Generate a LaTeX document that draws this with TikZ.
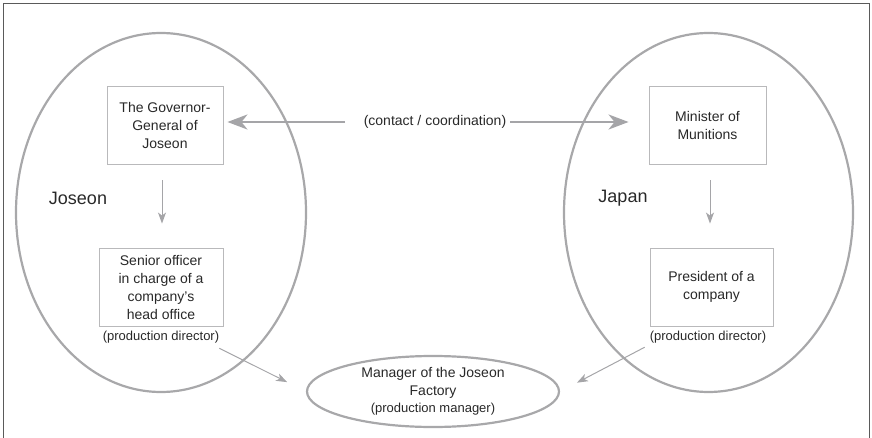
\documentclass[tikz,border=0pt]{standalone}
\usepackage{fontspec}
\setmainfont{Liberation Sans}
\usetikzlibrary{arrows.meta,shapes.geometric}
\definecolor{ellgray}{RGB}{168,168,170}
\definecolor{boxgray}{RGB}{185,185,187}
\definecolor{arrgray}{RGB}{165,165,168}
\definecolor{txt}{RGB}{40,40,40}
\definecolor{framecol}{RGB}{90,90,90}
\begin{document}
\begin{tikzpicture}[x=1pt,y=-1pt,
  region/.style={ellipse,draw=ellgray,line width=2.2pt,inner sep=0pt},
  post/.style={draw=boxgray,line width=0.9pt,align=center,text=txt,inner sep=0pt,
    font=\fontsize{14}{18}\selectfont},
  note/.style={text=txt,inner sep=0pt,font=\fontsize{13}{16}\selectfont},
  biglabel/.style={text=txt,inner sep=0pt,font=\fontsize{18}{22}\selectfont},
  thickarr/.style={draw=arrgray,line width=2.6pt,-{Stealth[length=20pt,width=15pt,inset=6pt]}},
  thinarr/.style={draw=arrgray,line width=1pt,-{Stealth[length=11pt,width=8pt,inset=3pt]}}]
\useasboundingbox (0,0) rectangle (872,438);
\draw[framecol,line width=1pt] (3,438) -- (3,4) -- (869,4) -- (869,438);

\node[region,minimum width=290pt,minimum height=359pt] (jos) at (161,212.5) {};
\node[region,minimum width=289pt,minimum height=359pt] (jap) at (708.5,212.5) {};

\node[post,minimum width=116pt,minimum height=78pt] (gg) at (165,125)
  {The Governor-\\General of\\Joseon};
\node[post,minimum width=117pt,minimum height=78pt] (mm) at (707.5,125)
  {Minister of\\Munitions};
\node[post,minimum width=124pt,minimum height=78pt] (so) at (161,287)
  {Senior officer\\in charge of a\\company’s\\head office};
\node[post,minimum width=123pt,minimum height=78pt] (pr) at (711.5,287)
  {President of a\\company};

\node[note] (pdl) at (161,337) {(production director)};
\node[note] (pdr) at (708,337) {(production director)};

\node[biglabel] (jl) at (78,198) {Joseon};
\node[biglabel] (jp) at (623,198) {Japan};

\node[text=txt,inner sep=0pt,font=\fontsize{14}{18}\selectfont] (cc) at (435,122)
  {(contact / coordination)};
\coordinate (cL) at (345,122);
\coordinate (cR) at (510,122);
\draw[thickarr,shorten >=4pt] (cL) -- (cL -| gg.east);
\draw[thickarr,shorten >=20pt] (cR) -- (cR -| mm.west);

\node[ellipse,draw=ellgray,line width=2.2pt,inner sep=0pt,minimum width=252pt,
  minimum height=71pt,align=center,text=txt,font=\fontsize{14}{18}\selectfont] (mg) at (433,391.5)
  {Manager of the Joseon\\Factory\\[-1pt]{\fontsize{13}{16}\selectfont (production manager)}};

\draw[thinarr,shorten <=16pt,shorten >=24pt]
  ([xshift=1pt]so.north |- gg.south) -- ([xshift=1pt]so.north);
\draw[thinarr,shorten <=16pt,shorten >=24pt]
  ([xshift=-1.5pt]pr.north |- mm.south) -- ([xshift=-1.5pt]pr.north);

\draw[thinarr,shorten >=21pt] ([yshift=-5pt]pdl.south east) -- (mg.west);
\draw[thinarr,shorten >=19pt] ([xshift=-5pt,yshift=-4pt]pdr.south west) -- (mg.east);
\end{tikzpicture}
\end{document}
